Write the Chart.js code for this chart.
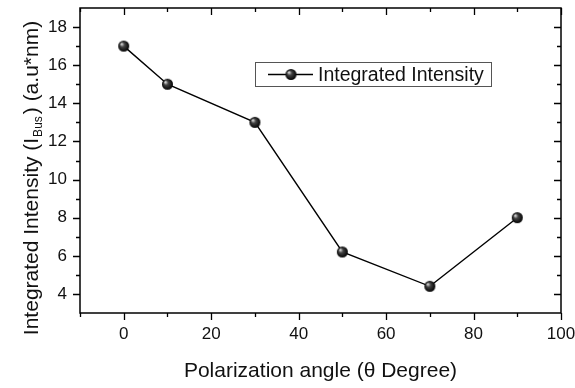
<!DOCTYPE html>
<html><head><meta charset="utf-8">
<script src="https://cdn.jsdelivr.net/npm/chart.js@4/dist/chart.umd.min.js"></script>
<style>html,body{margin:0;padding:0;background:#fff}#wrap{width:575px;height:388px}</style>
</head><body><div id="wrap"><canvas id="c" width="575" height="388"></canvas></div>
<script>
const angles = [0, 10, 30, 50, 70, 90];
const intensity = [17, 15, 13, 6.2, 4.4, 8];
const xTicks = [0, 20, 40, 60, 80, 100];
const yTicks = [4, 6, 8, 10, 12, 14, 16, 18];
const seriesName = 'Integrated Intensity';
const xTitle = 'Polarization angle (\u03B8 Degree)';

const FONT = 'Arial, "Liberation Sans", sans-serif';

function sphere(r) {
  const c = document.createElement('canvas');
  c.width = c.height = r * 2 + 2;
  const g = c.getContext('2d');
  const cx = r + 1, cy = r + 1;
  const grad = g.createRadialGradient(cx - r * 0.4, cy - r * 0.4, 0.5, cx, cy, r);
  grad.addColorStop(0, '#d8d8d8');
  grad.addColorStop(0.35, '#444');
  grad.addColorStop(1, '#000');
  g.fillStyle = grad;
  g.beginPath(); g.arc(cx, cy, r, 0, Math.PI * 2); g.fill();
  return c;
}
const ball = sphere(5.5);

const decor = {
  id: 'decor',
  afterDraw(chart) {
    const ctx = chart.ctx, a = chart.chartArea;
    const xs = chart.scales.x, ys = chart.scales.y;
    ctx.save();
    ctx.strokeStyle = '#000';
    ctx.lineWidth = 1.3;
    ctx.beginPath();
    for (let v = -10; v <= 100; v += 10) {
      const px = Math.round(xs.getPixelForValue(v)) + 0.5;
      const major = xTicks.includes(v);
      const L = major ? 7 : 4;
      ctx.moveTo(px, a.bottom); ctx.lineTo(px, a.bottom + L);
      ctx.moveTo(px, a.top); ctx.lineTo(px, a.top + L);
    }
    for (let v = 4; v <= 18; v += 1) {
      const py = Math.round(ys.getPixelForValue(v)) + 0.5;
      const major = yTicks.includes(v);
      const L = major ? 7 : 4;
      ctx.moveTo(a.left, py); ctx.lineTo(a.left - L, py);
      ctx.moveTo(a.right, py); ctx.lineTo(a.right - L, py);
    }
    ctx.stroke();
    ctx.lineWidth = 1.5;
    ctx.strokeRect(a.left, a.top, a.right - a.left, a.bottom - a.top);

    // legend
    const lx = 255, ly = 62, lw = 236, lh = 24;
    ctx.lineWidth = 1;
    ctx.strokeStyle = '#555';
    ctx.strokeRect(lx + 0.5, ly + 0.5, lw, lh);
    ctx.strokeStyle = '#000';
    ctx.lineWidth = 1.3;
    const my = ly + 12.5;
    ctx.beginPath(); ctx.moveTo(268, my); ctx.lineTo(313, my); ctx.stroke();
    ctx.drawImage(ball, 291 - 6.5, my - 6.5);
    ctx.fillStyle = '#111';
    ctx.font = '19.5px ' + FONT;
    ctx.textBaseline = 'middle';
    ctx.textAlign = 'left';
    ctx.fillText(seriesName, 318, my + 1);

    // x title
    ctx.font = '21px ' + FONT;
    ctx.textAlign = 'center';
    ctx.textBaseline = 'middle';
    ctx.fillText(xTitle, (a.left + a.right) / 2, 371);

    // y title with subscript
    ctx.translate(31, 178);
    ctx.rotate(-Math.PI / 2);
    const p1 = 'Integrated Intensity (I', sub = 'Bus', p2 = ') (a.u*nm)';
    ctx.font = '21px ' + FONT;
    const w1 = ctx.measureText(p1).width, w3 = ctx.measureText(p2).width;
    ctx.font = '12px ' + FONT;
    const w2 = ctx.measureText(sub).width;
    const total = w1 + w2 + w3 + 3;
    let x0 = -total / 2;
    ctx.textAlign = 'left';
    ctx.textBaseline = 'alphabetic';
    ctx.font = '21px ' + FONT;
    ctx.fillText(p1, x0, 7);
    ctx.font = '12px ' + FONT;
    ctx.fillText(sub, x0 + w1 + 1, 11);
    ctx.font = '21px ' + FONT;
    ctx.fillText(p2, x0 + w1 + w2 + 3, 7);
    ctx.restore();
  }
};

new Chart(document.getElementById('c'), {
  type: 'line',
  data: {
    datasets: [{
      label: seriesName,
      data: angles.map((x, i) => ({ x, y: intensity[i] })),
      borderColor: '#000',
      borderWidth: 1.4,
      pointStyle: ball,
      pointRadius: 5.5,
      pointHoverRadius: 5.5,
      tension: 0,
      fill: false
    }]
  },
  options: {
    responsive: false,
    animation: false,
    events: [],
    layout: { padding: { left: 0, top: 8, right: 14, bottom: 0 } },
    plugins: { legend: { display: false }, tooltip: { enabled: false } },
    scales: {
      x: {
        type: 'linear', min: -10, max: 100,
        afterBuildTicks: s => { s.ticks = xTicks.map(v => ({ value: v })); },
        afterFit: s => { s.height = 75; s.paddingLeft = 0; s.paddingRight = 0; },
        grid: { display: false, drawTicks: false },
        border: { display: false },
        ticks: { color: '#111', font: { family: FONT, size: 17 }, padding: 11, maxRotation: 0 }
      },
      y: {
        type: 'linear', min: 3, max: 19,
        afterBuildTicks: s => { s.ticks = yTicks.map(v => ({ value: v })); },
        afterFit: s => { s.width = 80; s.paddingTop = 0; s.paddingBottom = 0; },
        grid: { display: false, drawTicks: false },
        border: { display: false },
        ticks: { color: '#111', font: { family: FONT, size: 17 }, padding: 13 }
      }
    }
  },
  plugins: [decor]
});
</script></body></html>
